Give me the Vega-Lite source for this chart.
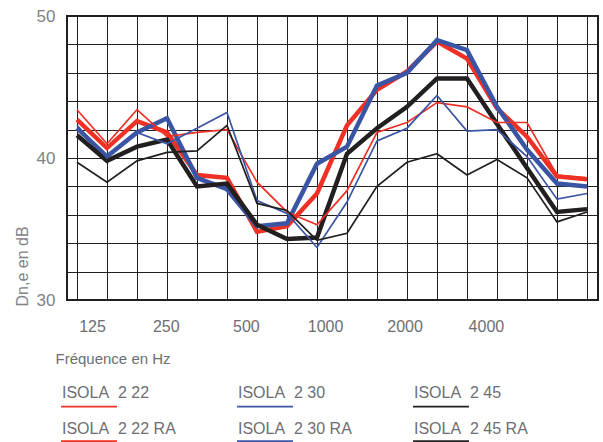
{
  "$schema": "https://vega.github.io/schema/vega-lite/v6.json",
  "autosize": "none",
  "width": 531,
  "height": 284,
  "padding": {"left": 67, "top": 16, "right": 5, "bottom": 142},
  "background": "white",
  "config": {
    "font": "Liberation Sans",
    "view": {"stroke": "#231f20", "strokeWidth": 2},
    "axis": {"gridColor": "#231f20", "gridOpacity": 1, "gridWidth": 1}
  },
  "data": {"values": [
    {"series": "ISOLA\u00a0 2 22", "band": 0, "freq": 100, "db": 43.4},
    {"series": "ISOLA\u00a0 2 22", "band": 1, "freq": 125, "db": 41.0},
    {"series": "ISOLA\u00a0 2 22", "band": 2, "freq": 160, "db": 43.4},
    {"series": "ISOLA\u00a0 2 22", "band": 3, "freq": 200, "db": 41.5},
    {"series": "ISOLA\u00a0 2 22", "band": 4, "freq": 250, "db": 41.8},
    {"series": "ISOLA\u00a0 2 22", "band": 5, "freq": 315, "db": 42.0},
    {"series": "ISOLA\u00a0 2 22", "band": 6, "freq": 400, "db": 38.3},
    {"series": "ISOLA\u00a0 2 22", "band": 7, "freq": 500, "db": 36.2},
    {"series": "ISOLA\u00a0 2 22", "band": 8, "freq": 630, "db": 35.3},
    {"series": "ISOLA\u00a0 2 22", "band": 9, "freq": 800, "db": 37.7},
    {"series": "ISOLA\u00a0 2 22", "band": 10, "freq": 1000, "db": 41.8},
    {"series": "ISOLA\u00a0 2 22", "band": 11, "freq": 1250, "db": 42.5},
    {"series": "ISOLA\u00a0 2 22", "band": 12, "freq": 1600, "db": 43.9},
    {"series": "ISOLA\u00a0 2 22", "band": 13, "freq": 2000, "db": 43.6},
    {"series": "ISOLA\u00a0 2 22", "band": 14, "freq": 2500, "db": 42.5},
    {"series": "ISOLA\u00a0 2 22", "band": 15, "freq": 3150, "db": 42.5},
    {"series": "ISOLA\u00a0 2 22", "band": 16, "freq": 4000, "db": 38.8},
    {"series": "ISOLA\u00a0 2 22", "band": 17, "freq": 5000, "db": 38.6},

    {"series": "ISOLA\u00a0 2 30", "band": 0, "freq": 100, "db": 42.3},
    {"series": "ISOLA\u00a0 2 30", "band": 1, "freq": 125, "db": 40.0},
    {"series": "ISOLA\u00a0 2 30", "band": 2, "freq": 160, "db": 41.8},
    {"series": "ISOLA\u00a0 2 30", "band": 3, "freq": 200, "db": 41.0},
    {"series": "ISOLA\u00a0 2 30", "band": 4, "freq": 250, "db": 42.1},
    {"series": "ISOLA\u00a0 2 30", "band": 5, "freq": 315, "db": 43.2},
    {"series": "ISOLA\u00a0 2 30", "band": 6, "freq": 400, "db": 37.0},
    {"series": "ISOLA\u00a0 2 30", "band": 7, "freq": 500, "db": 36.1},
    {"series": "ISOLA\u00a0 2 30", "band": 8, "freq": 630, "db": 33.7},
    {"series": "ISOLA\u00a0 2 30", "band": 9, "freq": 800, "db": 36.9},
    {"series": "ISOLA\u00a0 2 30", "band": 10, "freq": 1000, "db": 41.2},
    {"series": "ISOLA\u00a0 2 30", "band": 11, "freq": 1250, "db": 42.1},
    {"series": "ISOLA\u00a0 2 30", "band": 12, "freq": 1600, "db": 44.4},
    {"series": "ISOLA\u00a0 2 30", "band": 13, "freq": 2000, "db": 41.9},
    {"series": "ISOLA\u00a0 2 30", "band": 14, "freq": 2500, "db": 42.0},
    {"series": "ISOLA\u00a0 2 30", "band": 15, "freq": 3150, "db": 40.1},
    {"series": "ISOLA\u00a0 2 30", "band": 16, "freq": 4000, "db": 37.1},
    {"series": "ISOLA\u00a0 2 30", "band": 17, "freq": 5000, "db": 37.5},

    {"series": "ISOLA\u00a0 2 45", "band": 0, "freq": 100, "db": 39.7},
    {"series": "ISOLA\u00a0 2 45", "band": 1, "freq": 125, "db": 38.3},
    {"series": "ISOLA\u00a0 2 45", "band": 2, "freq": 160, "db": 39.8},
    {"series": "ISOLA\u00a0 2 45", "band": 3, "freq": 200, "db": 40.4},
    {"series": "ISOLA\u00a0 2 45", "band": 4, "freq": 250, "db": 40.5},
    {"series": "ISOLA\u00a0 2 45", "band": 5, "freq": 315, "db": 42.3},
    {"series": "ISOLA\u00a0 2 45", "band": 6, "freq": 400, "db": 36.8},
    {"series": "ISOLA\u00a0 2 45", "band": 7, "freq": 500, "db": 36.3},
    {"series": "ISOLA\u00a0 2 45", "band": 8, "freq": 630, "db": 34.2},
    {"series": "ISOLA\u00a0 2 45", "band": 9, "freq": 800, "db": 34.7},
    {"series": "ISOLA\u00a0 2 45", "band": 10, "freq": 1000, "db": 38.0},
    {"series": "ISOLA\u00a0 2 45", "band": 11, "freq": 1250, "db": 39.7},
    {"series": "ISOLA\u00a0 2 45", "band": 12, "freq": 1600, "db": 40.3},
    {"series": "ISOLA\u00a0 2 45", "band": 13, "freq": 2000, "db": 38.8},
    {"series": "ISOLA\u00a0 2 45", "band": 14, "freq": 2500, "db": 39.9},
    {"series": "ISOLA\u00a0 2 45", "band": 15, "freq": 3150, "db": 38.6},
    {"series": "ISOLA\u00a0 2 45", "band": 16, "freq": 4000, "db": 35.5},
    {"series": "ISOLA\u00a0 2 45", "band": 17, "freq": 5000, "db": 36.2},

    {"series": "ISOLA\u00a0 2 22 RA", "band": 0, "freq": 100, "db": 42.7},
    {"series": "ISOLA\u00a0 2 22 RA", "band": 1, "freq": 125, "db": 40.7},
    {"series": "ISOLA\u00a0 2 22 RA", "band": 2, "freq": 160, "db": 42.6},
    {"series": "ISOLA\u00a0 2 22 RA", "band": 3, "freq": 200, "db": 41.8},
    {"series": "ISOLA\u00a0 2 22 RA", "band": 4, "freq": 250, "db": 38.8},
    {"series": "ISOLA\u00a0 2 22 RA", "band": 5, "freq": 315, "db": 38.6},
    {"series": "ISOLA\u00a0 2 22 RA", "band": 6, "freq": 400, "db": 34.8},
    {"series": "ISOLA\u00a0 2 22 RA", "band": 7, "freq": 500, "db": 35.2},
    {"series": "ISOLA\u00a0 2 22 RA", "band": 8, "freq": 630, "db": 37.5},
    {"series": "ISOLA\u00a0 2 22 RA", "band": 9, "freq": 800, "db": 42.3},
    {"series": "ISOLA\u00a0 2 22 RA", "band": 10, "freq": 1000, "db": 44.8},
    {"series": "ISOLA\u00a0 2 22 RA", "band": 11, "freq": 1250, "db": 46.1},
    {"series": "ISOLA\u00a0 2 22 RA", "band": 12, "freq": 1600, "db": 48.2},
    {"series": "ISOLA\u00a0 2 22 RA", "band": 13, "freq": 2000, "db": 47.0},
    {"series": "ISOLA\u00a0 2 22 RA", "band": 14, "freq": 2500, "db": 43.5},
    {"series": "ISOLA\u00a0 2 22 RA", "band": 15, "freq": 3150, "db": 41.5},
    {"series": "ISOLA\u00a0 2 22 RA", "band": 16, "freq": 4000, "db": 38.7},
    {"series": "ISOLA\u00a0 2 22 RA", "band": 17, "freq": 5000, "db": 38.5},

    {"series": "ISOLA\u00a0 2 30 RA", "band": 0, "freq": 100, "db": 42.1},
    {"series": "ISOLA\u00a0 2 30 RA", "band": 1, "freq": 125, "db": 40.1},
    {"series": "ISOLA\u00a0 2 30 RA", "band": 2, "freq": 160, "db": 41.8},
    {"series": "ISOLA\u00a0 2 30 RA", "band": 3, "freq": 200, "db": 42.8},
    {"series": "ISOLA\u00a0 2 30 RA", "band": 4, "freq": 250, "db": 38.6},
    {"series": "ISOLA\u00a0 2 30 RA", "band": 5, "freq": 315, "db": 37.8},
    {"series": "ISOLA\u00a0 2 30 RA", "band": 6, "freq": 400, "db": 35.2},
    {"series": "ISOLA\u00a0 2 30 RA", "band": 7, "freq": 500, "db": 35.4},
    {"series": "ISOLA\u00a0 2 30 RA", "band": 8, "freq": 630, "db": 39.6},
    {"series": "ISOLA\u00a0 2 30 RA", "band": 9, "freq": 800, "db": 40.8},
    {"series": "ISOLA\u00a0 2 30 RA", "band": 10, "freq": 1000, "db": 45.1},
    {"series": "ISOLA\u00a0 2 30 RA", "band": 11, "freq": 1250, "db": 46.0},
    {"series": "ISOLA\u00a0 2 30 RA", "band": 12, "freq": 1600, "db": 48.3},
    {"series": "ISOLA\u00a0 2 30 RA", "band": 13, "freq": 2000, "db": 47.6},
    {"series": "ISOLA\u00a0 2 30 RA", "band": 14, "freq": 2500, "db": 43.6},
    {"series": "ISOLA\u00a0 2 30 RA", "band": 15, "freq": 3150, "db": 40.6},
    {"series": "ISOLA\u00a0 2 30 RA", "band": 16, "freq": 4000, "db": 38.2},
    {"series": "ISOLA\u00a0 2 30 RA", "band": 17, "freq": 5000, "db": 38.0},

    {"series": "ISOLA\u00a0 2 45 RA", "band": 0, "freq": 100, "db": 41.6},
    {"series": "ISOLA\u00a0 2 45 RA", "band": 1, "freq": 125, "db": 39.8},
    {"series": "ISOLA\u00a0 2 45 RA", "band": 2, "freq": 160, "db": 40.8},
    {"series": "ISOLA\u00a0 2 45 RA", "band": 3, "freq": 200, "db": 41.3},
    {"series": "ISOLA\u00a0 2 45 RA", "band": 4, "freq": 250, "db": 38.0},
    {"series": "ISOLA\u00a0 2 45 RA", "band": 5, "freq": 315, "db": 38.2},
    {"series": "ISOLA\u00a0 2 45 RA", "band": 6, "freq": 400, "db": 35.3},
    {"series": "ISOLA\u00a0 2 45 RA", "band": 7, "freq": 500, "db": 34.3},
    {"series": "ISOLA\u00a0 2 45 RA", "band": 8, "freq": 630, "db": 34.4},
    {"series": "ISOLA\u00a0 2 45 RA", "band": 9, "freq": 800, "db": 40.3},
    {"series": "ISOLA\u00a0 2 45 RA", "band": 10, "freq": 1000, "db": 42.1},
    {"series": "ISOLA\u00a0 2 45 RA", "band": 11, "freq": 1250, "db": 43.6},
    {"series": "ISOLA\u00a0 2 45 RA", "band": 12, "freq": 1600, "db": 45.6},
    {"series": "ISOLA\u00a0 2 45 RA", "band": 13, "freq": 2000, "db": 45.6},
    {"series": "ISOLA\u00a0 2 45 RA", "band": 14, "freq": 2500, "db": 42.4},
    {"series": "ISOLA\u00a0 2 45 RA", "band": 15, "freq": 3150, "db": 39.3},
    {"series": "ISOLA\u00a0 2 45 RA", "band": 16, "freq": 4000, "db": 36.2},
    {"series": "ISOLA\u00a0 2 45 RA", "band": 17, "freq": 5000, "db": 36.4}
  ]},
  "encoding": {
    "y": {
      "field": "db", "type": "quantitative",
      "scale": {"domain": [30, 50], "nice": false, "zero": false},
      "axis": {
        "values": [30, 32, 34, 36, 38, 40, 42, 44, 46, 48, 50],
        "labelExpr": "datum.value % 10 === 0 ? datum.label : ''",
        "grid": true, "ticks": false, "domain": false,
        "labelFontSize": 17, "labelColor": "#808285", "labelPadding": 12,
        "title": "Dn,e en dB", "titleFontSize": 16, "titleFontWeight": "normal",
        "titleColor": "#808285", "titleAngle": 270, "titleX": -45, "titleY": 290,
        "titleAlign": "left", "titleBaseline": "middle"
      }
    },
    "color": {
      "field": "series", "type": "nominal",
      "scale": {
        "domain": ["ISOLA\u00a0 2 22", "ISOLA\u00a0 2 30", "ISOLA\u00a0 2 45", "ISOLA\u00a0 2 22 RA", "ISOLA\u00a0 2 30 RA", "ISOLA\u00a0 2 45 RA"],
        "range": ["#ee3124", "#3b55a5", "#231f20", "#ee3124", "#3b55a5", "#231f20"]
      },
      "legend": {
        "orient": "none", "legendX": -6, "legendY": 377, "columns": 3,
        "direction": "horizontal",
        "title": null, "symbolType": "M-5,1H5", "symbolSize": 125,
        "symbolOffset": 20, "labelOffset": -35, "labelBaseline": "bottom",
        "labelFontSize": 16, "labelColor": "#6d6e71", "columnPadding": 52,
        "rowPadding": 11, "labelLimit": 0
      }
    },
    "strokeWidth": {
      "field": "series", "type": "ordinal",
      "scale": {
        "type": "ordinal",
        "domain": ["ISOLA\u00a0 2 22", "ISOLA\u00a0 2 30", "ISOLA\u00a0 2 45", "ISOLA\u00a0 2 22 RA", "ISOLA\u00a0 2 30 RA", "ISOLA\u00a0 2 45 RA"],
        "range": [1.7, 1.7, 1.7, 4.5, 4.5, 4.5]
      }
    }
  },
  "layer": [
    {
      "transform": [{"filter": "indexof(datum.series, 'RA') >= 0"}],
      "mark": {"type": "line", "strokeJoin": "miter"},
      "encoding": {
        "x": {
          "field": "band", "type": "quantitative",
          "scale": {"domain": [-0.333, 17.367], "nice": false, "zero": false},
          "axis": {
            "orient": "bottom",
            "values": [0, 1, 2, 3, 4, 5, 6, 7, 8, 9, 10, 11, 12, 13, 14, 15, 16, 17],
            "grid": true, "labels": false, "ticks": false, "domain": false, "title": null
          }
        }
      }
    },
    {
      "transform": [{"filter": "indexof(datum.series, 'RA') < 0"}],
      "mark": {"type": "line", "strokeJoin": "miter"},
      "encoding": {
        "x": {
          "field": "band", "type": "quantitative",
          "axis": {
            "orient": "bottom",
            "values": [0.5, 2.96, 5.63, 8.27, 10.92, 13.63],
            "labelExpr": "datum.value < 1 ? '125' : datum.value < 4 ? '250' : datum.value < 6 ? '500' : datum.value < 9 ? '1000' : datum.value < 12 ? '2000' : '4000'",
            "grid": false, "ticks": false, "domain": false,
            "labelFontSize": 16, "labelColor": "#6d6e71", "labelPadding": 18,
            "labelBaseline": "top", "labelAlign": "center", "labelFlush": false,
            "title": "Fréquence en Hz", "titleFontSize": 15, "titleFontWeight": "normal",
            "titleColor": "#6d6e71", "titleX": -12, "titleY": 63,
            "titleAlign": "left", "titleBaseline": "alphabetic"
          }
        }
      }
    }
  ],
  "resolve": {"axis": {"x": "independent"}}
}
